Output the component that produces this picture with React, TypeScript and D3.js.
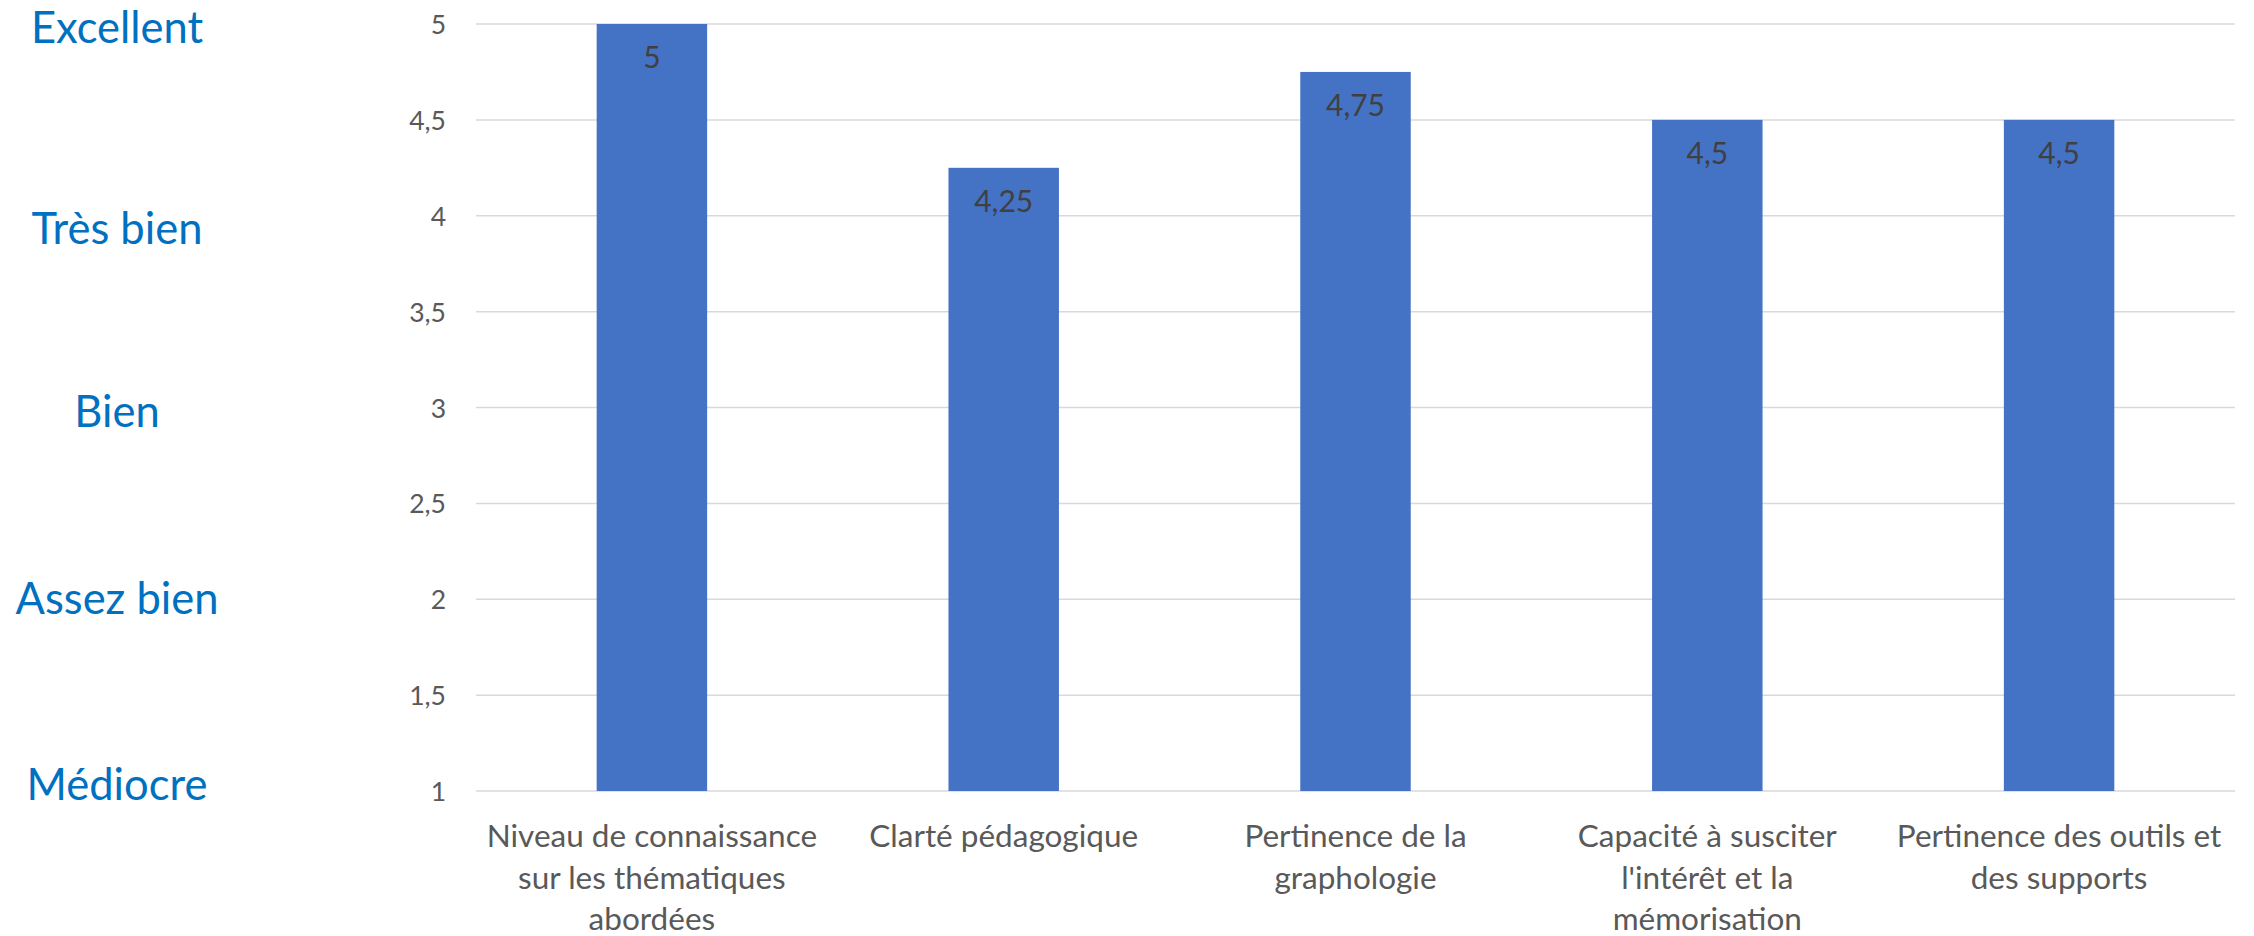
import React from "react";
import * as d3 from "d3";

const categories: string[] = [
  "Niveau de connaissance\nsur les thématiques\nabordées",
  "Clarté pédagogique",
  "Pertinence de la\ngraphologie",
  "Capacité à susciter\nl'intérêt et la\nmémorisation",
  "Pertinence des outils et\ndes supports",
];
const values: number[] = [5, 4.25, 4.75, 4.5, 4.5];
const yTicks: number[] = [1, 1.5, 2, 2.5, 3, 3.5, 4, 4.5, 5];
const ratingLabels: string[] = ["Excellent", "Très bien", "Bien", "Assez bien", "Médiocre"];

const W = 2254;
const H = 936;
const plot = { left: 476, right: 2235, top: 24, bottom: 791 };
const ratingX = 117;
const ratingY = [26, 227, 410, 597, 783];
const FONT = "Lato, 'Noto Sans', sans-serif";
const fmt = (v: number) => String(v).replace(".", ",");

export default function App() {
  const x = d3
    .scaleBand<string>()
    .domain(categories)
    .range([plot.left, plot.right])
    .paddingInner(0.686)
    .paddingOuter(0.343);
  const y = d3.scaleLinear().domain([1, 5]).range([plot.bottom, plot.top]);

  return (
    <svg
      width={W}
      height={H}
      style={{ position: "absolute", left: 0, top: 0, background: "#fff" }}
      fontFamily={FONT}
    >
      {yTicks.map((t) => (
        <g key={t}>
          <line
            x1={plot.left}
            x2={plot.right}
            y1={y(t)}
            y2={y(t)}
            stroke="#D9D9D9"
            strokeWidth={1.5}
          />
          <text
            x={446}
            y={y(t)}
            textAnchor="end"
            dominantBaseline="central"
            fontSize={26.5}
            fill="#595959"
          >
            {fmt(t)}
          </text>
        </g>
      ))}
      {categories.map((c, i) => (
        <g key={c}>
          <rect
            x={x(c)}
            y={y(values[i])}
            width={x.bandwidth()}
            height={y(1) - y(values[i])}
            fill="#4472C4"
          />
          <text
            x={(x(c) as number) + x.bandwidth() / 2}
            y={y(values[i]) + 44}
            textAnchor="middle"
            fontSize={30}
            fill="#404040"
          >
            {fmt(values[i])}
          </text>
          <text
            x={(x(c) as number) + x.bandwidth() / 2}
            y={plot.bottom + 56}
            textAnchor="middle"
            fontSize={31.5}
            fill="#595959"
          >
            {c.split("\n").map((line, k) => (
              <tspan key={k} x={(x(c) as number) + x.bandwidth() / 2} dy={k === 0 ? 0 : 41.5}>
                {line}
              </tspan>
            ))}
          </text>
        </g>
      ))}
      {ratingLabels.map((r, i) => (
        <text
          key={r}
          x={ratingX}
          y={ratingY[i]}
          textAnchor="middle"
          dominantBaseline="central"
          fontSize={43.5}
          fill="#0070C0"
        >
          {r}
        </text>
      ))}
    </svg>
  );
}
